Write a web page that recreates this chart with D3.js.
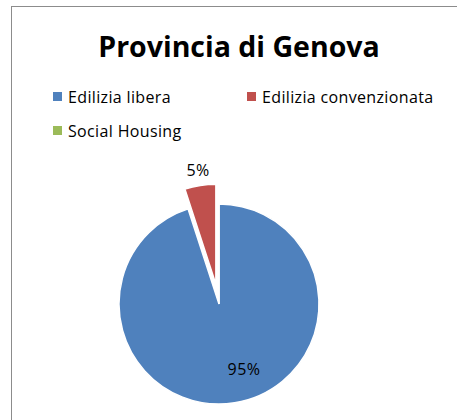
<!DOCTYPE html>
<html>
<head>
<meta charset="utf-8">
<script src="https://cdn.jsdelivr.net/npm/d3@7"></script>
<style>
  body { margin: 0; background: #fff; }
  text { font-family: "Open Sans", "Noto Sans", sans-serif; }
</style>
</head>
<body>
<div id="chart"></div>
<script>
const width = 457, height = 420;

// chart data
const categories = ["Edilizia libera", "Edilizia convenzionata", "Social Housing"];
const values = [95, 5, 0];
const colors = ["#4F81BD", "#C0504D", "#9BBB59"];
const title = "Provincia di Genova";

const svg = d3.select("#chart").append("svg")
    .attr("width", width)
    .attr("height", height);

// chart area frame (only top and left edges fall inside the picture)
svg.append("rect")
    .attr("x", 11.5)
    .attr("y", 6.5)
    .attr("width", 460)
    .attr("height", 430)
    .attr("fill", "#fff")
    .attr("stroke", "#8c8c8c")
    .attr("stroke-width", 1);

svg.append("text")
    .attr("x", 239)
    .attr("y", 57)
    .attr("text-anchor", "middle")
    .attr("font-size", 28.5)
    .attr("font-weight", "bold")
    .attr("fill", "#000")
    .text(title);

// legend
const legendPos = [[53, 92], [247, 92], [53, 126]];
const legend = svg.append("g");
categories.forEach((c, i) => {
    const [lx, ly] = legendPos[i];
    legend.append("rect")
        .attr("x", lx).attr("y", ly)
        .attr("width", 9).attr("height", 9)
        .attr("fill", colors[i]);
    legend.append("text")
        .attr("x", lx + 15).attr("y", ly + 11)
        .attr("font-size", 16)
        .attr("letter-spacing", 0.35)
        .attr("fill", "#000")
        .text(c);
});

// pie
const cx = 219, cy = 304, r = 100, explode = 20;
const pie = d3.pie().sort(null).value(d => d)
    .startAngle(0).endAngle(2 * Math.PI);
const arcs = pie(values);
const arc = d3.arc().innerRadius(0).outerRadius(r);

const g = svg.append("g").attr("transform", `translate(${cx},${cy})`);

g.selectAll("path")
    .data(arcs)
    .enter().append("path")
    .attr("transform", (d, i) => {
        if (i !== 1) return null;
        const mid = (d.startAngle + d.endAngle) / 2;
        return `translate(${Math.sin(mid) * explode},${-Math.cos(mid) * explode})`;
    })
    .attr("d", arc)
    .attr("fill", (d, i) => colors[i])
    .attr("stroke", "#fff")
    .attr("stroke-width", 1.5);

// data labels
const labelPos = d3.scaleLinear().domain([0, 1]).range([0, r]);
g.selectAll(".lbl")
    .data(arcs.filter(d => d.value > 0))
    .enter().append("text")
    .attr("class", "lbl")
    .attr("text-anchor", "middle")
    .attr("font-size", 16)
    .attr("letter-spacing", 0.4)
    .attr("fill", "#000")
    .attr("x", d => {
        const mid = (d.startAngle + d.endAngle) / 2;
        return d.index === 1 ? Math.sin(mid) * (labelPos(1) + explode + 14) : Math.sin(mid) * labelPos(0.7) + 14;
    })
    .attr("y", d => {
        const mid = (d.startAngle + d.endAngle) / 2;
        return d.index === 1 ? -Math.cos(mid) * (labelPos(1) + explode + 14) + 4 : -Math.cos(mid) * labelPos(0.7) + 2;
    })
    .text(d => d.value + "%");
</script>
</body>
</html>
